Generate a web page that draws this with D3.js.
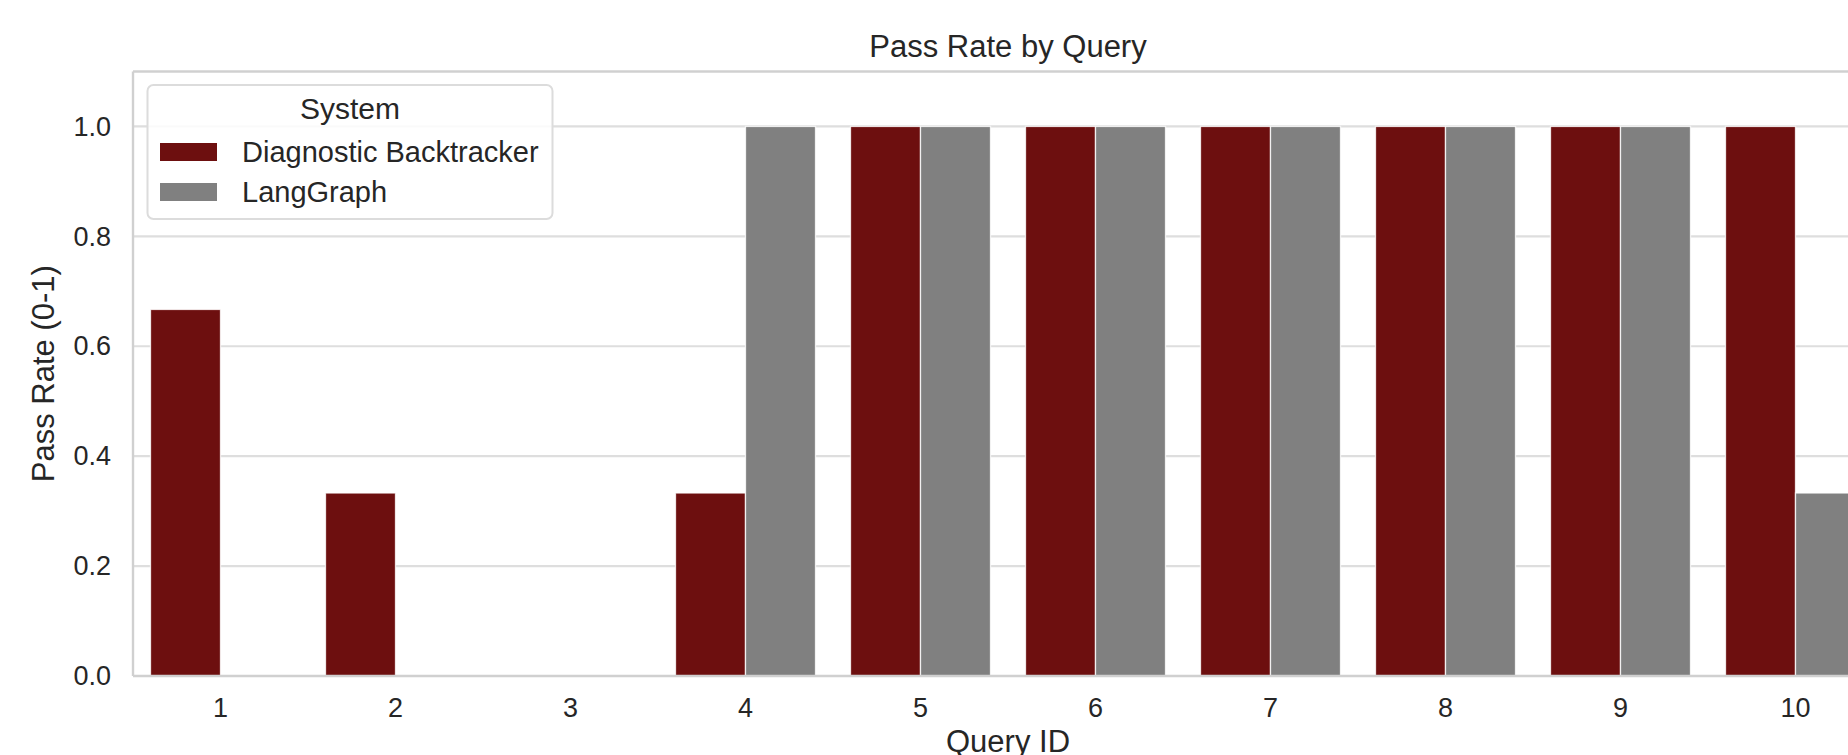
<!DOCTYPE html>
<html>
<head>
<meta charset="utf-8">
<script src="https://cdn.jsdelivr.net/npm/d3@7"></script>
<style>
  html, body { margin: 0; padding: 0; background: #ffffff; }
  svg { display: block; }
  text { font-family: "Liberation Sans", Arial, sans-serif; fill: #262626; }
</style>
</head>
<body>
<svg id="chart" width="1848" height="755"></svg>
<script>
// ---- data ----
const queries = ["1", "2", "3", "4", "5", "6", "7", "8", "9", "10"];
const systems = ["Diagnostic Backtracker", "LangGraph"];
const backtrackerValues = [0.667, 0.333, 0, 0.333, 1, 1, 1, 1, 1, 1];
const langGraphValues = [0, 0, 0, 1, 1, 1, 1, 1, 1, 0.333];
const yTickValues = [0, 0.2, 0.4, 0.6, 0.8, 1.0];
const systemColors = ["#6d0f0f", "#808080"];
const titleText = "Pass Rate by Query";
const xLabelText = "Query ID";
const yLabelText = "Pass Rate (0-1)";
const legendTitleText = "System";

// ---- layout ----
const plotLeft = 133, plotRight = 1883, plotTop = 71.5, plotBottom = 676;
const gridColor = "#dedede";
const spineColor = "#d0d0d0";

const svg = d3.select("#chart");

const x = d3.scaleBand().domain(queries).range([plotLeft, plotRight]).paddingInner(0).paddingOuter(0);
const xSub = d3.scaleBand().domain(systems).range([0, x.bandwidth()]).paddingInner(0).paddingOuter(0.25);
const y = d3.scaleLinear().domain([0, 1.1]).range([plotBottom, plotTop]);
const color = d3.scaleOrdinal().domain(systems).range(systemColors);

const rows = queries.map((q, i) => ({ q, values: [backtrackerValues[i], langGraphValues[i]] }));

// gridlines
svg.append("g").selectAll("line").data(yTickValues).join("line")
  .attr("x1", plotLeft).attr("x2", plotRight)
  .attr("y1", d => y(d)).attr("y2", d => y(d))
  .attr("stroke", gridColor).attr("stroke-width", 2.2);

// bars
const groups = svg.append("g").selectAll("g").data(rows).join("g")
  .attr("transform", d => `translate(${x(d.q)},0)`);
groups.selectAll("rect").data(d => systems.map((s, j) => ({ s, v: d.values[j] })))
  .join("rect")
  .attr("x", d => xSub(d.s))
  .attr("width", xSub.bandwidth())
  .attr("y", d => y(d.v))
  .attr("height", d => y(0) - y(d.v))
  .attr("fill", d => color(d.s))
  .attr("stroke", d => d.v > 0 ? "#ffffff" : "none")
  .attr("stroke-opacity", 0.8)
  .attr("stroke-width", 1.3);

// spines
const spines = svg.append("g").attr("stroke", spineColor).attr("stroke-width", 2.4).attr("fill", "none");
spines.append("line").attr("x1", plotLeft).attr("x2", plotRight).attr("y1", plotTop).attr("y2", plotTop);
spines.append("line").attr("x1", plotLeft).attr("x2", plotRight).attr("y1", plotBottom).attr("y2", plotBottom);
spines.append("line").attr("x1", plotLeft).attr("x2", plotLeft).attr("y1", plotTop).attr("y2", plotBottom);
spines.append("line").attr("x1", plotRight).attr("x2", plotRight).attr("y1", plotTop).attr("y2", plotBottom);

// axes
const yAxis = svg.append("g").attr("transform", `translate(${plotLeft},0)`)
  .call(d3.axisLeft(y).tickValues(yTickValues).tickFormat(d3.format(".1f")).tickSize(0).tickPadding(22));
yAxis.select(".domain").remove();
yAxis.selectAll("text").style("font-size", "27px").style("font-family", '"Liberation Sans", Arial, sans-serif').attr("fill", "#262626");

const xAxis = svg.append("g").attr("transform", `translate(0,${plotBottom})`)
  .call(d3.axisBottom(x).tickSize(0).tickPadding(22));
xAxis.select(".domain").remove();
xAxis.selectAll("text").style("font-size", "27px").style("font-family", '"Liberation Sans", Arial, sans-serif').attr("fill", "#262626");

// title and labels
const cx = (plotLeft + plotRight) / 2;
svg.append("text").attr("x", cx).attr("y", 56.5).attr("text-anchor", "middle")
  .style("font-size", "31px").text(titleText);
svg.append("text").attr("x", cx).attr("y", 752).attr("text-anchor", "middle")
  .style("font-size", "31px").text(xLabelText);
svg.append("text").attr("transform", `translate(54,${(plotTop + plotBottom) / 2}) rotate(-90)`)
  .attr("text-anchor", "middle").style("font-size", "31px").text(yLabelText);

// legend
const legend = svg.append("g");
legend.append("rect").attr("x", 147.5).attr("y", 85).attr("width", 405).attr("height", 134)
  .attr("rx", 6).attr("fill", "#ffffff").attr("fill-opacity", 0.85)
  .attr("stroke", "#dcdcdc").attr("stroke-width", 2);
legend.append("text").attr("x", 350).attr("y", 119).attr("text-anchor", "middle")
  .style("font-size", "30px").text(legendTitleText);
const items = legend.selectAll("g.item").data(systems).join("g").attr("class", "item")
  .attr("transform", (d, i) => `translate(0,${i * 40})`);
items.append("rect").attr("x", 160).attr("y", 143).attr("width", 57).attr("height", 18)
  .attr("fill", d => color(d));
items.append("text").attr("x", 242).attr("y", 161.5).style("font-size", "29px").text(d => d);
</script>
</body>
</html>
